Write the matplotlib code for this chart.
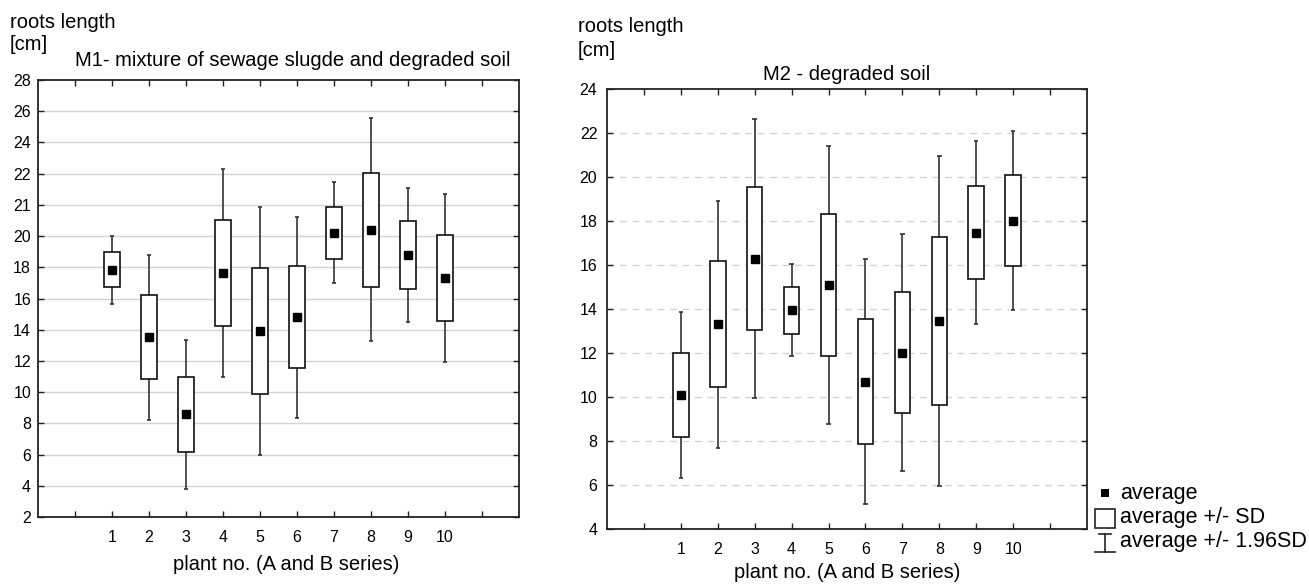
import matplotlib
matplotlib.use('Agg')
import matplotlib.pyplot as plt
from matplotlib.lines import Line2D
from matplotlib.patches import Rectangle
import numpy as np

plt.rcParams['font.family'] = ['Liberation Sans', 'DejaVu Sans']

# data (mean and SD of roots length)
plants = [1, 2, 3, 4, 5, 6, 7, 8, 9, 10]
m1_mean = [17.84, 13.52, 8.57, 17.64, 13.93, 14.80, 20.20, 20.41, 18.79, 17.32]
m1_sd = [1.12, 2.70, 2.43, 3.40, 4.05, 3.28, 1.65, 3.65, 2.20, 2.74]
m1_ytick_labels = ['2', '4', '6', '8', '10', '12', '14', '16', '18', '20',
                   '21', '22', '24', '26', '28']

m2_mean = [10.09, 13.30, 16.29, 13.95, 15.10, 10.70, 12.01, 13.45, 17.47, 18.02]
m2_sd = [1.92, 2.86, 3.24, 1.07, 3.22, 2.84, 2.75, 3.83, 2.12, 2.07]
m2_ytick_labels = ['4', '6', '8', '10', '12', '14', '16', '18', '20', '22', '24']

W, H = 1309, 584
fig = plt.figure(figsize=(W / 100, H / 100), dpi=100)


def fx(x):
    return x / W


def fy(y):
    return 1 - y / H


def panel(l, t, r, b):
    return fig.add_axes([fx(l), fy(b), fx(r) - fx(l), fy(t) - fy(b)])


def draw(ax, mean, sd, ylabels, y0, gridstyle, xpad, ypad):
    mean = np.array(mean)
    sd = np.array(sd)
    x = np.array(plants)
    yt = np.arange(y0, y0 + 2 * len(ylabels), 2)
    for y in yt[1:-1]:
        ax.axhline(y, color='#d4d4d4', lw=1, ls=gridstyle, zorder=0)
    lo = mean - 1.96 * sd
    hi = mean + 1.96 * sd
    ax.vlines(x, lo, hi, color='#333333', lw=1.2, zorder=1)
    ax.hlines(lo, x - 0.06, x + 0.06, color='#333333', lw=1.2, zorder=1)
    ax.hlines(hi, x - 0.06, x + 0.06, color='#333333', lw=1.2, zorder=1)
    ax.bar(x, 2 * sd, bottom=mean - sd, width=0.42, facecolor='white',
           edgecolor='#111111', lw=1.2, zorder=2)
    ax.plot(x, mean, 's', color='black', ms=5.5, zorder=3)
    ax.set_xlim(-1, 12)
    ax.set_ylim(yt[0], yt[-1])
    ax.set_xticks(range(0, 12))
    ax.set_xticklabels([''] + [str(p) for p in plants] + [''])
    ax.set_yticks(yt)
    ax.set_yticklabels(ylabels)
    ax.tick_params(axis='both', direction='in', length=4, width=1,
                   top=True, right=True, labelsize=11.5, color='#222222')
    ax.tick_params(axis='x', pad=xpad)
    ax.tick_params(axis='y', pad=ypad)
    for s in ax.spines.values():
        s.set_linewidth(1.3)
        s.set_color('#222222')


ax1 = panel(38, 80, 519, 517)
draw(ax1, m1_mean, m1_sd, m1_ytick_labels, 2, '-', 9, 5)

ax2 = panel(607, 89, 1087, 529)
draw(ax2, m2_mean, m2_sd, m2_ytick_labels, 4, (0, (5, 4)), 9, 7)

fs = 14.5
fig.text(fx(10), fy(22), 'roots length', fontsize=fs, va='center', ha='left')
fig.text(fx(10), fy(45), '[cm]', fontsize=fs, va='center', ha='left')
fig.text(fx(75), fy(60), 'M1- mixture of sewage slugde and degraded soil',
         fontsize=fs, va='center', ha='left')
fig.text(fx(286), fy(565), 'plant no. (A and B series)', fontsize=fs,
         va='center', ha='center')

fig.text(fx(578), fy(27), 'roots length', fontsize=fs, va='center', ha='left')
fig.text(fx(578), fy(50), '[cm]', fontsize=fs, va='center', ha='left')
fig.text(fx(847), fy(75), 'M2 - degraded soil', fontsize=fs,
         va='center', ha='center')
fig.text(fx(847), fy(573), 'plant no. (A and B series)', fontsize=fs,
         va='center', ha='center')

# legend
tf = fig.transFigure
fig.add_artist(Rectangle((fx(1101), fy(497)), fx(8), fy(0) - fy(8),
                         facecolor='black', edgecolor='none', transform=tf))
fig.add_artist(Rectangle((fx(1095), fy(528)), fx(20), fy(0) - fy(19),
                         facecolor='white', edgecolor='#222222', lw=1.2,
                         transform=tf))
fig.add_artist(Line2D([fx(1105), fx(1105)], [fy(534), fy(552)],
                      color='#222222', lw=1.2, transform=tf))
fig.add_artist(Line2D([fx(1099), fx(1111)], [fy(534), fy(534)],
                      color='#222222', lw=1.2, transform=tf))
fig.add_artist(Line2D([fx(1095), fx(1115)], [fy(552), fy(552)],
                      color='#222222', lw=1.2, transform=tf))
fig.text(fx(1120), fy(494), 'average', fontsize=15.5, va='center', ha='left')
fig.text(fx(1120), fy(518), 'average +/- SD', fontsize=15.5, va='center',
         ha='left')
fig.text(fx(1120), fy(542), 'average +/- 1.96SD', fontsize=15.5, va='center',
         ha='left')

fig.savefig('out.png', dpi=100)
